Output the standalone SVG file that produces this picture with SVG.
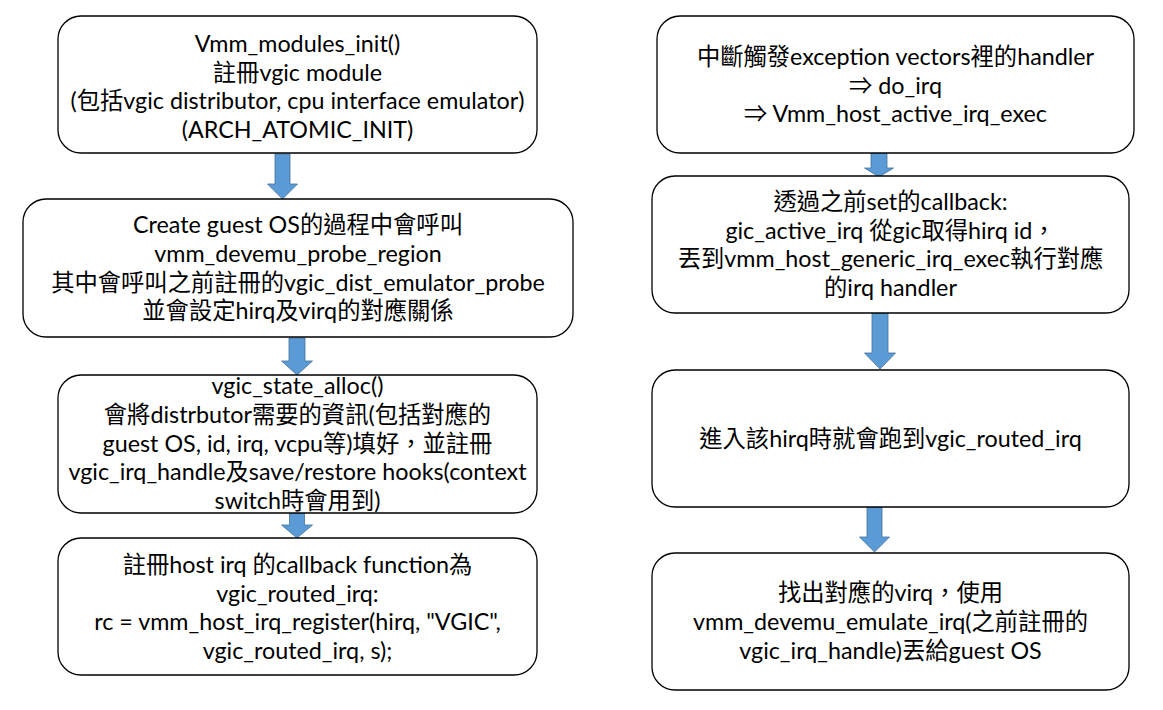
<svg xmlns="http://www.w3.org/2000/svg" width="1163" height="710" viewBox="0 0 1163 710">
<style>
.box{fill:#ffffff;stroke:#000000;stroke-width:1.3}
.arr{fill:#5b9bd5;stroke:#41719c;stroke-width:0.8}
text{font-family:Lato,"Noto Sans CJK TC",sans-serif;font-size:23.3px;fill:#000000;text-anchor:middle}
</style>
<rect width="1163" height="710" fill="#ffffff"/>
<g id="connectors">
<polygon class="arr" points="275,154 290,154 290,184 297.5,184 282.5,199 267.5,184 275,184"/>
<polygon class="arr" points="289,338 305,338 305,361 312.5,361 297,375 281.5,361 289,361"/>
<polygon class="arr" points="289.5,513 304.5,513 304.5,525 312.5,525 297,538 281.5,525 289.5,525"/>
<polygon class="arr" points="871,153 887,153 887,168 893.5,168 879,177 864.5,168 871,168"/>
<polygon class="arr" points="872,313 888,313 888,353 895.5,353 880,369 864.5,353 872,353"/>
<polygon class="arr" points="867,507 882,507 882,537 889.5,537 874.5,552 859.5,537 867,537"/>
</g>
<g id="n1">
<rect class="box" x="58" y="16" width="479" height="137" rx="23"/>
<text x="297.5" y="52">Vmm_modules_init()</text>
<text x="297.5" y="80.5">註冊vgic module</text>
<text x="297.5" y="109">(包括vgic distributor, cpu interface emulator)</text>
<text x="297.5" y="137.5">(ARCH_ATOMIC_INIT)</text>
</g>
<g id="n2">
<rect class="box" x="23" y="199" width="550" height="138" rx="23"/>
<text x="298" y="233">Create guest OS的過程中會呼叫</text>
<text x="298" y="262">vmm_devemu_probe_region</text>
<text x="298" y="290.5">其中會呼叫之前註冊的vgic_dist_emulator_probe</text>
<text x="298" y="319">並會設定hirq及virq的對應關係</text>
</g>
<g id="n3">
<rect class="box" x="58" y="375" width="479" height="138" rx="23"/>
<text x="297.5" y="394">vgic_state_alloc()</text>
<text x="297.5" y="423">會將distrbutor需要的資訊(包括對應的</text>
<text x="297.5" y="451.5">guest OS, id, irq, vcpu等)填好，並註冊</text>
<text x="297.5" y="480">vgic_irq_handle及save/restore hooks(context</text>
<text x="297.5" y="509">switch時會用到)</text>
</g>
<g id="n4">
<rect class="box" x="58" y="538" width="479" height="137" rx="23"/>
<text x="297.5" y="573">註冊host irq 的callback function為</text>
<text x="297.5" y="601.5">vgic_routed_irq:</text>
<text x="297.5" y="630">rc = vmm_host_irq_register(hirq, "VGIC",</text>
<text x="297.5" y="658.5">vgic_routed_irq, s);</text>
</g>
<g id="n5">
<rect class="box" x="657" y="16" width="477" height="137" rx="23"/>
<text x="895.5" y="65">中斷觸發exception vectors裡的handler</text>
<text x="895.5" y="93.5">⇒ do_irq</text>
<text x="895.5" y="122">⇒ Vmm_host_active_irq_exec</text>
</g>
<g id="n6">
<rect class="box" x="652" y="176" width="477" height="137" rx="23"/>
<text x="890.5" y="210">透過之前set的callback:</text>
<text x="890.5" y="238.5">gic_active_irq 從gic取得hirq id，</text>
<text x="890.5" y="267">丟到vmm_host_generic_irq_exec執行對應</text>
<text x="890.5" y="295.5">的irq handler</text>
</g>
<g id="n7">
<rect class="box" x="652" y="370" width="477" height="137" rx="23"/>
<text x="890.5" y="447">進入該hirq時就會跑到vgic_routed_irq</text>
</g>
<g id="n8">
<rect class="box" x="652" y="553" width="477" height="137" rx="23"/>
<text x="890.5" y="601">找出對應的virq，使用</text>
<text x="890.5" y="630">vmm_devemu_emulate_irq(之前註冊的</text>
<text x="890.5" y="659">vgic_irq_handle)丟給guest OS</text>
</g>
</svg>
